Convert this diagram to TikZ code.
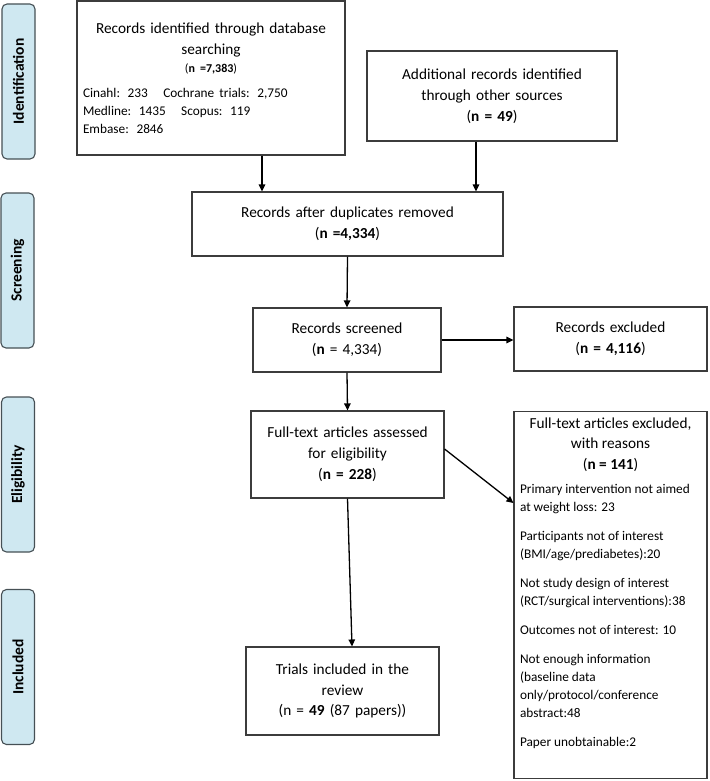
\documentclass[tikz,border=0pt]{standalone}
\usepackage{fontspec}
\setmainfont{Carlito}
\usetikzlibrary{arrows.meta}

\definecolor{phasefill}{RGB}{207,232,241}
\definecolor{phaseline}{RGB}{70,80,85}
\definecolor{boxline}{RGB}{60,60,60}

\newcommand{\listfont}{\fontsize{13.3}{18}\selectfont}

\tikzset{
  phase/.style={draw=phaseline, fill=phasefill, line width=1.1pt, rounded corners=5pt,
    rotate=90, minimum width=155pt, minimum height=33pt, inner sep=0pt,
    font=\fontsize{15.5}{18}\selectfont\bfseries},
  box/.style={draw=boxline, line width=1.1pt, inner sep=6pt, align=center,
    font=\fontsize{15.3}{20.8}\selectfont},
  arrow/.style={->, line width=1.3pt}
}

\begin{document}
\begin{tikzpicture}[x=1pt, y=-1pt, >={Triangle[length=7pt,width=6.5pt]}]
\useasboundingbox (0,0) rectangle (709,781);

% phases
\node[phase] (ident) at (18.5,81.5) {Identification};
\node[phase] (screen) at (17.5,270.5) {Screening};
\node[phase] (elig) at (18,474.5) {Eligibility};
\node[phase] (incl) at (18,667) {Included};

% boxes
\node[box, text width=256pt, minimum height=154pt] (db) at (211,78)
  {{\centering Records identified through database\\ searching\\[-3pt]
   {\fontsize{12}{14}\selectfont(\textbf{n =7,383})}\par}
   \vspace{7pt}
   {\raggedright\listfont Cinahl: 233\ \ \ Cochrane trials: 2,750\\
    Medline: 1435\ \ \ Scopus: 119\\ Embase: 2846\par}
   \vspace{14pt}};
\node[box, text width=238pt, minimum height=90pt] (other) at (492,96)
  {Additional records identified\\ through other sources\\ (\textbf{n = 49})};
\node[box, text width=299pt, minimum height=64pt] (dup) at (347.5,224)
  {Records after duplicates removed\\ (\textbf{n =4,334})};
\node[box, text width=176pt, minimum height=64pt] (screened) at (347,340)
  {Records screened\\ (\textbf{n} = 4,334)};
\node[box, text width=181pt, minimum height=64pt] (excl) at (610.5,339)
  {Records excluded\\ (\textbf{n = 4,116})};
\node[box, text width=181pt, minimum height=87pt] (full) at (347.5,454.5)
  {Full-text articles assessed\\ for eligibility\\ (\textbf{n = 228})};
\node[box, anchor=north] (fullx) at (610.5,411)
  {\begin{minipage}[t][355pt][t]{181pt}
   {\centering Full-text articles excluded,\\ with reasons\\ (\textbf{n = 141})\par}
   \vspace{6pt}
   {\raggedright\listfont
   Primary intervention not aimed\\ at weight loss: 23\par\vspace{11pt}
   Participants not of interest\\ (BMI/age/prediabetes):20\par\vspace{11pt}
   Not study design of interest\\ (RCT/surgical interventions):38\par\vspace{11pt}
   Outcomes not of interest: 10\par\vspace{11pt}
   Not enough information\\ (baseline data\\ only/protocol/conference\\ abstract:48\par\vspace{11pt}
   Paper unobtainable:2\par}
   \end{minipage}};
\node[box, text width=181pt, minimum height=88pt] (trials) at (342.5,691)
  {Trials included in the\\ review\\ (n = \textbf{49} (87 papers))};

% connectors
\draw[arrow] ([xshift=51pt]db.south) -- ([xshift=51pt]db.south |- dup.north);
\draw[arrow] ([xshift=-16pt]other.south) -- ([xshift=-16pt]other.south |- dup.north);
\draw[arrow] (dup.south) -- (screened.north);
\draw[arrow] (screened.east) -- (screened.east -| excl.west);
\draw[arrow] (screened.south) -- (full.north);
\draw[arrow] ([yshift=5.5pt]full.east) -- ([yshift=-92pt]fullx.north west);
\draw[arrow] (full.south) -- ([xshift=9.5pt]trials.north);
\end{tikzpicture}
\end{document}
